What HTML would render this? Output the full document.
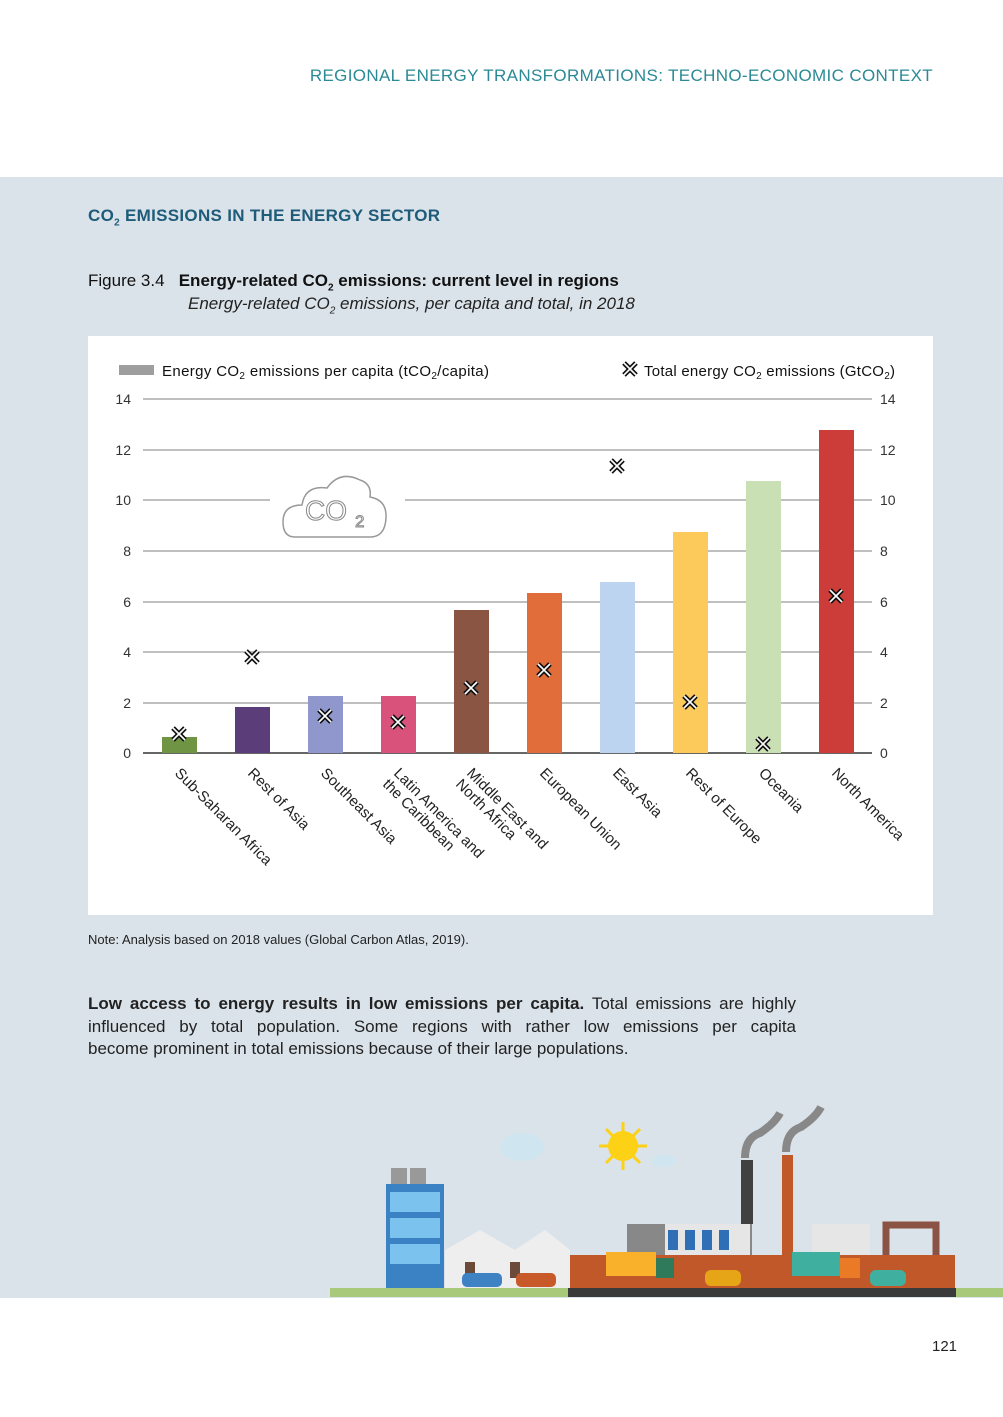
<!DOCTYPE html>
<html><head><meta charset="utf-8"><style>
body{margin:0;width:1003px;height:1417px;position:relative;background:#fff;font-family:"Liberation Sans",sans-serif;overflow:hidden}
.abs{position:absolute}
.j{display:block;text-align:justify;text-align-last:justify}
</style></head><body>
<div class="abs" style="left:0;top:177px;width:1003px;height:1121px;background:#dbe3ea"></div>
<div class="abs" style="right:70px;top:66px;font-size:17px;letter-spacing:0.35px;color:#2a8a96">REGIONAL ENERGY TRANSFORMATIONS: TECHNO-ECONOMIC CONTEXT</div>
<div class="abs" style="left:88px;top:206px;font-size:17px;font-weight:bold;color:#1f5c7a;letter-spacing:0.3px">CO<sub style="font-size:10px">2</sub> EMISSIONS IN THE ENERGY SECTOR</div>
<div class="abs" style="left:88px;top:271px;font-size:17px;color:#111"><span style="font-weight:normal">Figure 3.4</span>&nbsp;&nbsp; <b>Energy-related CO<sub style="font-size:10px">2</sub> emissions: current level in regions</b></div>
<div class="abs" style="left:188px;top:294px;font-size:17px;font-style:italic;color:#222">Energy-related CO<sub style="font-size:10px">2</sub> emissions, per capita and total, in 2018</div>
<div class="abs" style="left:88px;top:336px;width:845px;height:579px;background:#fff"></div>
<div class="abs" style="left:88px;top:932px;font-size:13px;color:#222">Note: Analysis based on 2018 values (Global Carbon Atlas, 2019).</div>
<div class="abs" style="left:88px;top:993px;width:708px;font-size:17px;line-height:22.5px;color:#222"><span class="j"><b>Low access to energy results in low emissions per capita.</b> Total emissions are highly</span><span class="j">influenced by total population. Some regions with rather low emissions per capita</span><span style="display:block">become prominent in total emissions because of their large populations.</span></div>
<div class="abs" style="left:932px;top:1338px;font-size:15px;color:#222">121</div>
<svg class="abs" style="left:0;top:0" width="1003" height="1417" font-family="Liberation Sans, sans-serif">
<g stroke="#aaa" stroke-width="1.5">
<line x1="143" y1="399" x2="872" y2="399"/><line x1="143" y1="450" x2="872" y2="450"/>
<line x1="143" y1="500" x2="270" y2="500"/><line x1="405" y1="500" x2="872" y2="500"/>
<line x1="143" y1="551" x2="872" y2="551"/><line x1="143" y1="602" x2="872" y2="602"/>
<line x1="143" y1="652" x2="872" y2="652"/><line x1="143" y1="703" x2="872" y2="703"/>
</g>
<line x1="143" y1="753" x2="872" y2="753" stroke="#333" stroke-width="1.5"/>
<g font-size="14" fill="#333" text-anchor="end">
<text x="131" y="404">14</text><text x="131" y="455">12</text><text x="131" y="505">10</text><text x="131" y="556">8</text><text x="131" y="607">6</text><text x="131" y="657">4</text><text x="131" y="708">2</text><text x="131" y="758">0</text></g>
<g font-size="14" fill="#333">
<text x="880" y="404">14</text><text x="880" y="455">12</text><text x="880" y="505">10</text><text x="880" y="556">8</text><text x="880" y="607">6</text><text x="880" y="657">4</text><text x="880" y="708">2</text><text x="880" y="758">0</text></g>
<path d="M295 537 Q283 537 283 522 Q283 505 302 505 Q305 485 327 488 Q340 470 360 480 Q372 484 370 497 Q387 500 386 518 Q385 537 370 537 Z" fill="#fff" stroke="#999" stroke-width="1.5"/>
<text x="305" y="520" font-size="28" fill="#fff" stroke="#888" stroke-width="1">CO</text><text x="355" y="527" font-size="17" fill="#fff" stroke="#888" stroke-width="1">2</text>
<rect x="119" y="365" width="35" height="10" fill="#9e9e9e"/>
<text x="162" y="376" font-size="15" fill="#111" textLength="327">Energy CO<tspan font-size="10" dy="3">2</tspan><tspan dy="-3"> emissions per capita (tCO</tspan><tspan font-size="10" dy="3">2</tspan><tspan dy="-3">/capita)</tspan></text>
<text x="644" y="376" font-size="15" fill="#111" textLength="251">Total energy CO<tspan font-size="10" dy="3">2</tspan><tspan dy="-3"> emissions (GtCO</tspan><tspan font-size="10" dy="3">2</tspan><tspan dy="-3">)</tspan></text>
<rect x="162" y="737" width="35" height="16" fill="#6e9444"/>
<rect x="235" y="707" width="35" height="46" fill="#5b3e79"/>
<rect x="308" y="696" width="35" height="57" fill="#8f97cc"/>
<rect x="381" y="696" width="35" height="57" fill="#d8527c"/>
<rect x="454" y="610" width="35" height="143" fill="#8b5543"/>
<rect x="527" y="593" width="35" height="160" fill="#e06d3a"/>
<rect x="600" y="582" width="35" height="171" fill="#bcd4ef"/>
<rect x="673" y="532" width="35" height="221" fill="#fcc95b"/>
<rect x="746" y="481" width="35" height="272" fill="#c9e0b4"/>
<rect x="819" y="430" width="35" height="323" fill="#cc3d3a"/>
<defs><g id="x"><path d="M-6 -6 L6 6 M-6 6 L6 -6" stroke="#111" stroke-width="5"/><path d="M-6 -6 L6 6 M-6 6 L6 -6" stroke="#fff" stroke-width="1.6"/></g></defs>
<use href="#x" x="630" y="369"/>
<use href="#x" x="179" y="734"/><use href="#x" x="252" y="657"/><use href="#x" x="325" y="716"/><use href="#x" x="398" y="722"/><use href="#x" x="471" y="688"/><use href="#x" x="544" y="670"/><use href="#x" x="617" y="466"/><use href="#x" x="690" y="702"/><use href="#x" x="763" y="744"/><use href="#x" x="836" y="596"/>
<g font-size="15" fill="#222">
<text transform="translate(174,774) rotate(45)">Sub-Saharan Africa</text>
<text transform="translate(247,774) rotate(45)">Rest of Asia</text>
<text transform="translate(320,774) rotate(45)">Southeast Asia</text>
<text transform="translate(393,774) rotate(45)">Latin America and</text>
<text transform="translate(382,785) rotate(45)">the Caribbean</text>
<text transform="translate(466,774) rotate(45)">Middle East and</text>
<text transform="translate(455,785) rotate(45)">North Africa</text>
<text transform="translate(539,774) rotate(45)">European Union</text>
<text transform="translate(612,774) rotate(45)">East Asia</text>
<text transform="translate(685,774) rotate(45)">Rest of Europe</text>
<text transform="translate(758,774) rotate(45)">Oceania</text>
<text transform="translate(831,774) rotate(45)">North America</text>
</g>
<rect x="330" y="1288" width="673" height="9" fill="#a9c97a"/>
<ellipse cx="522" cy="1147" rx="22" ry="14" fill="#cfe6f0"/><ellipse cx="664" cy="1161" rx="12" ry="6" fill="#cfe6f0"/>
<circle cx="623" cy="1146" r="15" fill="#fcd116"/>
<g stroke="#fcd116" stroke-width="3"><line x1="623" y1="1122" x2="623" y2="1170"/><line x1="599" y1="1146" x2="647" y2="1146"/><line x1="606" y1="1129" x2="640" y2="1163"/><line x1="640" y1="1129" x2="606" y2="1163"/></g>
<rect x="391" y="1168" width="16" height="16" fill="#999"/><rect x="410" y="1168" width="16" height="16" fill="#999"/>
<rect x="386" y="1184" width="58" height="104" fill="#3b82c4"/>
<g fill="#7cc2ef"><rect x="390" y="1192" width="50" height="20"/><rect x="390" y="1218" width="50" height="20"/><rect x="390" y="1244" width="50" height="20"/></g>
<path d="M445 1288 L445 1250 L480 1230 L515 1250 L545 1230 L570 1250 L570 1288Z" fill="#eeeeee"/>
<rect x="465" y="1262" width="10" height="16" fill="#6b4a3a"/><rect x="510" y="1262" width="10" height="16" fill="#6b4a3a"/>
<rect x="462" y="1273" width="40" height="14" rx="5" fill="#3e82c4"/><rect x="516" y="1273" width="40" height="14" rx="5" fill="#c85a2a"/>
<rect x="568" y="1288" width="388" height="9" fill="#3a3a3a"/>
<rect x="627" y="1224" width="125" height="64" fill="#888"/>
<rect x="665" y="1224" width="85" height="64" fill="#e6e6e6"/>
<g fill="#2e6fb5"><rect x="668" y="1230" width="10" height="20"/><rect x="685" y="1230" width="10" height="20"/><rect x="702" y="1230" width="10" height="20"/><rect x="719" y="1230" width="10" height="20"/></g>
<rect x="741" y="1160" width="12" height="64" fill="#404040"/>
<rect x="782" y="1155" width="11" height="100" fill="#c0582a"/>
<path d="M745 1158 q0 -20 15 -25 q15 -10 20 -20" stroke="#888" stroke-width="8" fill="none"/>
<path d="M786 1152 q0 -20 15 -25 q15 -10 20 -20" stroke="#888" stroke-width="8" fill="none"/>
<rect x="812" y="1224" width="58" height="64" fill="#e6e6e6"/>
<path d="M886 1255 v-30 h50 v30" stroke="#8a5343" stroke-width="7" fill="none"/>
<rect x="570" y="1255" width="385" height="33" fill="#c0582a"/>
<rect x="606" y="1252" width="50" height="24" fill="#f9b12c"/><rect x="656" y="1258" width="18" height="20" fill="#2f7a5a"/>
<rect x="792" y="1252" width="48" height="24" fill="#3fb0a0"/><rect x="840" y="1258" width="20" height="20" fill="#ea7a25"/>
<rect x="705" y="1270" width="36" height="16" rx="6" fill="#e5a516"/><rect x="870" y="1270" width="36" height="16" rx="6" fill="#3fb0a0"/>
</svg>
</body></html>
